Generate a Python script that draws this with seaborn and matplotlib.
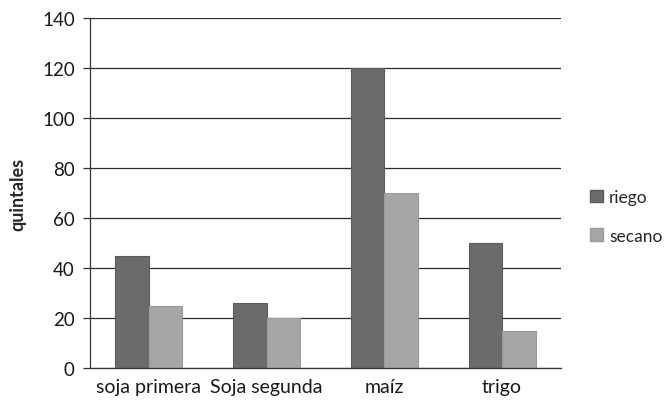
import pandas as pd
import seaborn as sns
import matplotlib.pyplot as plt
from matplotlib.patches import Patch

categorias = ['soja primera', 'Soja segunda', 'maíz', 'trigo']
riego = [45, 26, 120, 50]
secano = [25, 20, 70, 15]
series = ['riego', 'secano']
colores = {'riego': '#6b6b6b', 'secano': '#a6a6a6'}
bordes = {'riego': '#5c5c5c', 'secano': '#9a9a9a'}

df = pd.DataFrame({
    'cultivo': categorias * 2,
    'quintales': riego + secano,
    'serie': ['riego'] * 4 + ['secano'] * 4,
})

sns.set_style('white')
plt.rcParams['font.family'] = ['Lato', 'DejaVu Sans']

fig = plt.figure(figsize=(6.64, 4.10), dpi=100)
ax = fig.add_axes([90 / 664, 41 / 410, 471 / 664, 350 / 410])

sns.barplot(data=df, x='cultivo', y='quintales', hue='serie',
            palette=colores, width=0.57, gap=0, legend=False, ax=ax)

for cont, s in zip(ax.containers, series):
    for bar in cont:
        bar.set_edgecolor(bordes[s])
        bar.set_linewidth(0.8)

ax.set_ylim(0, 140)
ax.set_yticks(range(0, 141, 20))
ax.yaxis.grid(True, color='#2b2b2b', linewidth=0.9)
ax.set_axisbelow(True)

for side in ['top', 'right']:
    ax.spines[side].set_visible(False)
ax.spines['left'].set_color('#333333')
ax.spines['bottom'].set_color('#333333')
ax.spines['left'].set_linewidth(0.9)
ax.spines['bottom'].set_linewidth(0.9)

ax.tick_params(axis='y', length=5, width=0.9, color='#333333', pad=6,
               labelsize=13.5, labelcolor='#1a1a1a', left=True)
ax.tick_params(axis='x', length=0, pad=7, labelsize=14, labelcolor='#1a1a1a')

ax.set_xlabel('')
ax.set_ylabel('quintales', fontsize=13, fontweight='bold', labelpad=11)

handles = [Patch(facecolor=colores[s], edgecolor=bordes[s], label=s) for s in series]
fig.legend(handles=handles, loc='center left', bbox_to_anchor=(590 / 664, 0.47),
           frameon=False, fontsize=12.5, handlelength=0.75, handleheight=0.75,
           handletextpad=0.35, labelspacing=1.3, borderpad=0, borderaxespad=0)

fig.savefig('out.png', dpi=100)
